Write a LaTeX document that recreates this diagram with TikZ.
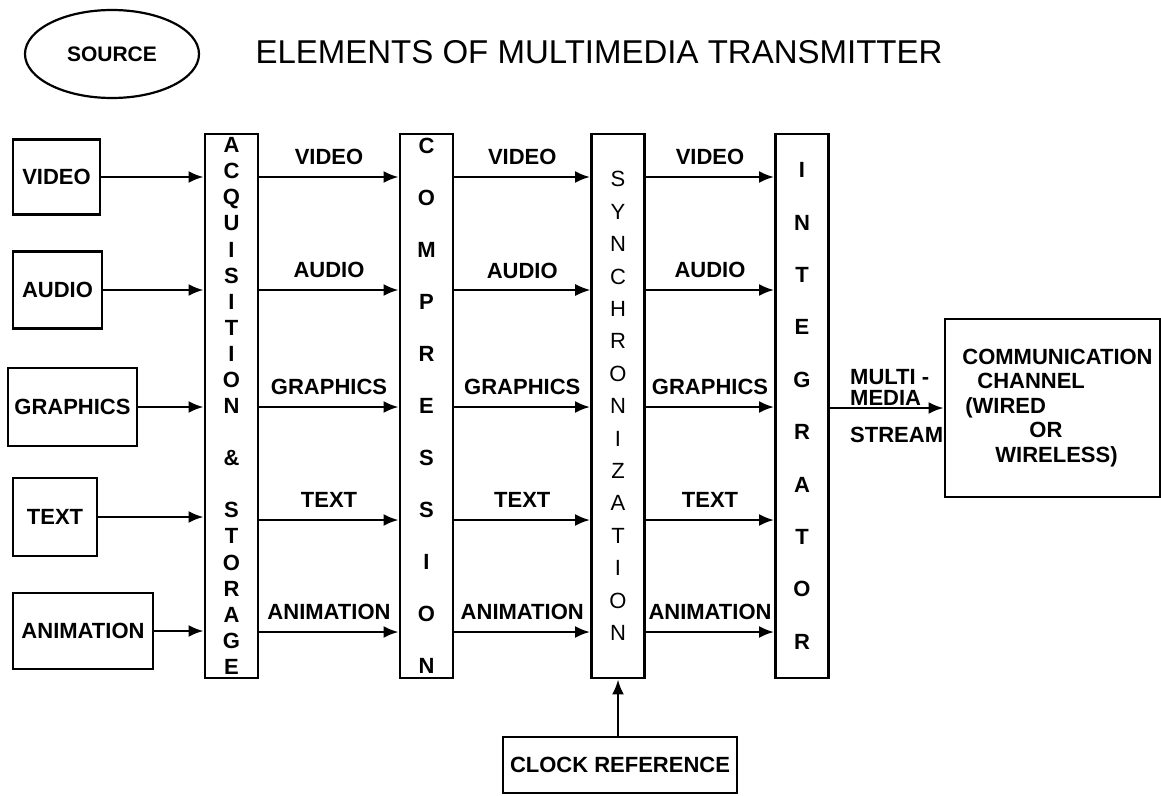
\documentclass[tikz,border=0pt]{standalone}
\usepackage{fontspec}
\setmainfont{Liberation Sans}
\usetikzlibrary{shapes.geometric, arrows.meta, positioning}

\begin{document}
\begin{tikzpicture}[x=1pt, y=-1pt,
    box/.style={draw, line width=2.8pt, inner sep=2pt, font=\fontsize{22}{26}\selectfont\bfseries},
    bar/.style={draw, line width=2.8pt, inner sep=0pt, minimum width=53pt, minimum height=544pt, align=center},
    lbl/.style={inner sep=2pt, font=\fontsize{22}{21}\selectfont\bfseries},
    flow/.style={-{Latex[length=15pt,width=12pt]}, line width=2.6pt}]
  \useasboundingbox (0,0) rectangle (1161,795);

  \node[draw, ellipse, line width=2.2pt, minimum width=174pt, minimum height=88pt, font=\fontsize{21}{25}\selectfont\bfseries] (source) at (112,54) {SOURCE};
  \node[font=\fontsize{33}{38}\selectfont] (title) at (599,52) {ELEMENTS OF MULTIMEDIA TRANSMITTER};

  % signal rows
  \coordinate (r1) at (0,177);
  \coordinate (r2) at (0,290);
  \coordinate (r3) at (0,407);
  \coordinate (r4) at (0,520);
  \coordinate (r5) at (0,632);

  % sources
  \node[box, minimum width=87pt, minimum height=75pt] (video) at (56.5,177) {VIDEO};
  \node[box, minimum width=89pt, minimum height=77pt] (audio) at (57.5,290) {AUDIO};
  \node[box, minimum width=129pt, minimum height=78pt] (graphics) at (72.5,407) {GRAPHICS};
  \node[box, minimum width=84pt, minimum height=78pt] (text) at (55,517) {TEXT};
  \node[box, minimum width=140pt, minimum height=76pt] (animation) at (83,631) {ANIMATION};

  % processing stages
  \node[bar, font=\fontsize{22}{26.1}\selectfont\bfseries] (acq) at (231.5,406)
    {A\\C\\Q\\U\\I\\S\\I\\T\\I\\O\\N\\[26pt]\&\\[26pt]S\\T\\O\\R\\A\\G\\E};
  \node[bar, font=\fontsize{22}{52}\selectfont\bfseries] (comp) at (426.5,406)
    {C\\O\\M\\P\\R\\E\\S\\S\\I\\O\\N};
  \node[bar, font=\fontsize{22}{32.4}\selectfont] (sync) at (618,406)
    {S\\Y\\N\\C\\H\\R\\O\\N\\I\\Z\\A\\T\\I\\O\\N};
  \node[bar, font=\fontsize{22}{52.4}\selectfont\bfseries] (integ) at (802,406)
    {I\\N\\T\\E\\G\\R\\A\\T\\O\\R};

  \node[box, inner sep=0pt, minimum width=215pt, minimum height=178pt, align=left, font=\fontsize{22}{24.5}\selectfont\bfseries] (comm) at (1052.5,408)
    {\hspace*{10pt}COMMUNICATION\\\hspace*{25pt}CHANNEL\\\hspace*{13pt}(WIRED\\\hspace*{77pt}OR\\\hspace*{43pt}WIRELESS)};
  \node[box, minimum width=234pt, minimum height=56pt] (clock) at (620,765) {CLOCK REFERENCE};

  % inputs
  \draw[flow] (video) -- (video -| acq.west);
  \draw[flow] (audio) -- (audio -| acq.west);
  \draw[flow] (graphics) -- (graphics -| acq.west);
  \draw[flow] (text) -- (text -| acq.west);
  \draw[flow] (animation) -- (animation -| acq.west);

  % acquisition to compression
  \draw[flow] (r1 -| acq.east) -- (r1 -| comp.west) node[lbl, midway, above=9pt] {VIDEO};
  \draw[flow] (r2 -| acq.east) -- (r2 -| comp.west) node[lbl, midway, above=9pt] {AUDIO};
  \draw[flow] (r3 -| acq.east) -- (r3 -| comp.west) node[lbl, midway, above=9pt] {GRAPHICS};
  \draw[flow] (r4 -| acq.east) -- (r4 -| comp.west) node[lbl, midway, above=9pt] {TEXT};
  \draw[flow] (r5 -| acq.east) -- (r5 -| comp.west) node[lbl, midway, above=9pt] {ANIMATION};

  % compression to synchronization
  \draw[flow] (r1 -| comp.east) -- (r1 -| sync.west) node[lbl, midway, above=9pt] {VIDEO};
  \draw[flow, line width=1.2pt] (r2 -| comp.east) -- (r2 -| sync.west) node[lbl, midway, above=9pt] {AUDIO};
  \draw[flow] (r3 -| comp.east) -- (r3 -| sync.west) node[lbl, midway, above=9pt] {GRAPHICS};
  \draw[flow] (r4 -| comp.east) -- (r4 -| sync.west) node[lbl, midway, above=9pt] {TEXT};
  \draw[flow] (r5 -| comp.east) -- (r5 -| sync.west) node[lbl, midway, above=9pt] {ANIMATION};

  % synchronization to integrator
  \draw[flow] (r1 -| sync.east) -- (r1 -| integ.west) node[lbl, midway, above=9pt] {VIDEO};
  \draw[flow] (r2 -| sync.east) -- (r2 -| integ.west) node[lbl, midway, above=9pt] {AUDIO};
  \draw[flow] (r3 -| sync.east) -- (r3 -| integ.west) node[lbl, midway, above=9pt] {GRAPHICS};
  \draw[flow] (r4 -| sync.east) -- (r4 -| integ.west) node[lbl, midway, above=9pt] {TEXT};
  \draw[flow] (r5 -| sync.east) -- (r5 -| integ.west) node[lbl, midway, above=9pt] {ANIMATION};

  % output stream
  \draw[flow] (comm -| integ.east) -- (comm.west);
  \node[lbl, anchor=west, align=left] (multi) at (848,387) {MULTI -\\MEDIA};
  \node[lbl, anchor=west] (stream) at (848,435) {STREAM};

  % clock
  \draw[flow] (clock.north -| sync) -- (sync.south);
\end{tikzpicture}
\end{document}
